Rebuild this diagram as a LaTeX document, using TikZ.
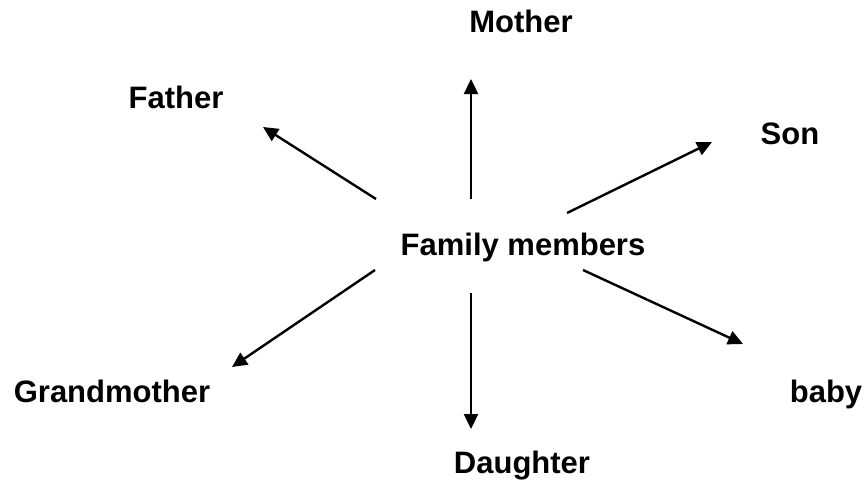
\documentclass[tikz,border=0pt]{standalone}
\usepackage{fontspec}
\setmainfont{Liberation Sans}
\usetikzlibrary{arrows.meta}
\tikzset{
    member/.style={inner sep=0pt,font=\bfseries\fontsize{31}{37}\selectfont},
    link/.style={line width=2.4pt,-{Triangle[length=15pt,width=14pt]}}
}
\begin{document}
\begin{tikzpicture}[x=1pt,y=-1pt]
                \useasboundingbox (0,0) rectangle (867,487);
                %% centre
                \node[member,anchor=base] (hub) at (523,255) {Family members};
                %% members
                \node[member,anchor=base] (mother) at (521,33) {Mother};
                \node[member,anchor=base] (father) at (176,108) {Father};
                \node[member,anchor=base] (son) at (790,144) {Son};
                \node[member,anchor=base] (grandmother) at (112,402) {Grandmother};
                \node[member,anchor=base] (baby) at (826,402) {baby};
                \node[member,anchor=base] (daughter) at (522,473) {Daughter};
                %% arrow ends
                \coordinate (fa) at (376,199);
                \coordinate (fb) at (263,127);
                \coordinate (ma) at (471,199);
                \coordinate (mb) at (471,79);
                \coordinate (sa) at (567,213);
                \coordinate (sb) at (712,142);
                \coordinate (ga) at (375,270);
                \coordinate (gb) at (232,367);
                \coordinate (da) at (471,293);
                \coordinate (db) at (471,429);
                \coordinate (ba) at (583,270);
                \coordinate (bb) at (743,344);
                %% arrows
                \draw[link] (fa) -- (fb);
                \draw[link] (ma) -- (mb);
                \draw[link] (sa) -- (sb);
                \draw[link] (ga) -- (gb);
                \draw[link] (da) -- (db);
                \draw[link] (ba) -- (bb);
\end{tikzpicture}
\end{document}
